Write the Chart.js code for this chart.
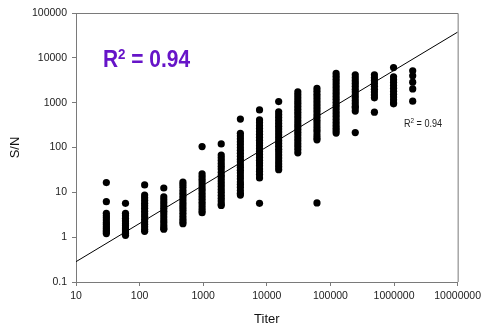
<!DOCTYPE html>
<html>
<head>
<meta charset="utf-8">
<script src="https://cdn.jsdelivr.net/npm/chart.js@4/dist/chart.umd.min.js"></script>
<style>
  html, body { margin: 0; padding: 0; background: #fff; }
  #wrap { width: 485px; height: 326px; }
</style>
</head>
<body>
<div id="wrap"><canvas id="c" width="485" height="326"></canvas></div>
<script>
// Serial two-fold titers (x) and the S/N readings measured at each titer (y)
const titers = [30, 60, 120, 240, 480, 960, 1920, 3840, 7680, 15360, 30720,
                61440, 122880, 245760, 491520, 983040, 1966080];

const sn30      = [16.5, 6.2, 3.4, 3.0, 2.7, 2.4, 2.1, 1.9, 1.7, 1.55, 1.4, 1.3, 1.2];
const sn60      = [5.7, 3.4, 3.0, 2.6, 2.3, 2.0, 1.8, 1.6, 1.45, 1.3, 1.2, 1.1];
const sn120     = [14.6, 8.7, 7.6, 6.6, 5.7, 5.0, 4.4, 3.8, 3.3, 2.9, 2.5, 2.2, 1.95, 1.7, 1.5, 1.35];
const sn240     = [12.5, 7.9, 6.8, 5.9, 5.1, 4.4, 3.8, 3.3, 2.8, 2.4, 2.1, 1.8, 1.6, 1.5];
const sn480     = [17, 15, 13, 11, 9.5, 8.2, 7.1, 6.1, 5.3, 4.6, 4.0, 3.4, 2.9, 2.5, 2.2, 2.0];
const sn960     = [105, 26, 22.5, 19.5, 17, 14.5, 12.5, 11, 9.4, 8.1, 7.0, 6.0, 5.2, 4.5, 3.9, 3.5];
const sn1920    = [120, 68, 59, 51, 44, 38, 33, 28, 24, 21, 18, 15.5, 13.5, 11.5, 10, 8.6, 7.4, 6.4, 5.5, 5.1];
const sn3840    = [430, 207, 180, 155, 134, 116, 100, 86, 74, 64, 55, 48, 41, 36, 31, 27, 23, 20, 17, 15, 13, 11, 9.5, 8.7];
const sn7680    = [690, 413, 355, 305, 265, 228, 197, 170, 146, 126, 109, 94, 81, 70, 60, 52, 45, 39, 33, 29, 25, 21, 5.7];
const sn15360   = [1060, 625, 540, 465, 400, 345, 298, 257, 222, 191, 165, 142, 123, 106, 91, 79, 68, 58, 50, 43, 37, 32];
const sn30720   = [1740, 1500, 1290, 1110, 960, 830, 715, 615, 530, 460, 395, 340, 295, 255, 220, 190, 163, 141, 121, 105, 90, 76];
const sn61440   = [2080, 1790, 1540, 1330, 1150, 990, 855, 735, 635, 545, 470, 405, 350, 300, 260, 225, 190, 165, 148, 5.8];
const sn122880  = [4500, 3880, 3350, 2890, 2490, 2150, 1850, 1600, 1380, 1190, 1020, 880, 760, 655, 565, 490, 420, 360, 310, 270, 235, 210];
const sn245760  = [4170, 3600, 3100, 2680, 2310, 1990, 1720, 1480, 1280, 1100, 950, 820, 765, 650, 215];
const sn491520  = [4170, 3600, 3100, 2680, 2310, 1990, 1720, 1480, 1280, 614];
const sn983040  = [6070, 3770, 3250, 2800, 2420, 2090, 1800, 1550, 1340, 1160, 1000, 940];
const sn1966080 = [5130, 3960, 2870, 2030, 1080];

const snByTiter = [sn30, sn60, sn120, sn240, sn480, sn960, sn1920, sn3840, sn7680,
                   sn15360, sn30720, sn61440, sn122880, sn245760, sn491520, sn983040, sn1966080];

// Log-log regression line, given by its two ends across the plotted range
const fitX = [10, 10000000];
const fitY = [0.284, 37500];
const r2Text = '0.94';

// Decade ticks on both axes
const xTicks = [10, 100, 1000, 10000, 100000, 1000000, 10000000];
const yTicks = [0.1, 1, 10, 100, 1000, 10000, 100000];

const points = [];
titers.forEach((t, i) => snByTiter[i].forEach(v => points.push({ x: t, y: v })));
const fitPoints = fitX.map((x, i) => ({ x, y: fitY[i] }));

Chart.defaults.font.family = "'Liberation Sans', Arial, sans-serif";
Chart.defaults.color = '#222';

const AXIS_GREY = '#7a7a7a';

// Closes the plot frame on the top and right sides
const framePlugin = {
  id: 'frame',
  beforeDatasetsDraw(chart) {
    const { ctx, chartArea: a } = chart;
    ctx.save();
    ctx.strokeStyle = AXIS_GREY;
    ctx.lineWidth = 1;
    ctx.beginPath();
    ctx.moveTo(a.left, a.top + 0.5);
    ctx.lineTo(a.right + 0.5, a.top + 0.5);
    ctx.lineTo(a.right + 0.5, a.bottom);
    ctx.stroke();
    ctx.restore();
  }
};

// R² annotations: a large highlighted one and a small one beside the data
function drawR2(ctx, x, y, size, sup, weight, color, targetWidth) {
  const mainFont = `${weight} ${size}px 'Liberation Sans', Arial, sans-serif`;
  const supFont = `${weight} ${sup}px 'Liberation Sans', Arial, sans-serif`;
  ctx.save();
  ctx.fillStyle = color;
  ctx.textBaseline = 'alphabetic';
  ctx.font = mainFont;
  const wR = ctx.measureText('R').width;
  const wRest = ctx.measureText(' = ' + r2Text).width;
  ctx.font = supFont;
  const w2 = ctx.measureText('2').width;
  const total = wR + w2 + wRest;
  const sx = targetWidth ? targetWidth / total : 1;
  ctx.translate(x, y);
  ctx.scale(sx, 1);
  ctx.font = mainFont;
  ctx.fillText('R', 0, 0);
  ctx.font = supFont;
  ctx.fillText('2', wR, -size * 0.33);
  ctx.font = mainFont;
  ctx.fillText(' = ' + r2Text, wR + w2, 0);
  ctx.restore();
}

const labelPlugin = {
  id: 'r2labels',
  afterDraw(chart) {
    const ctx = chart.ctx;
    drawR2(ctx, 103, 66.5, 23.5, 15, 'bold', '#6614c8', 87);
    drawR2(ctx, 404, 126.5, 10, 7, 'normal', '#222', 38);
  }
};

new Chart(document.getElementById('c'), {
  type: 'scatter',
  data: {
    datasets: [
      {
        label: 'S/N',
        data: points,
        pointRadius: 3.6,
        pointHoverRadius: 3.6,
        pointBorderWidth: 0,
        pointBackgroundColor: '#000',
        order: 2
      },
      {
        type: 'line',
        label: 'Fit',
        data: fitPoints,
        borderColor: '#000',
        borderWidth: 1,
        pointRadius: 0,
        fill: false,
        order: 1
      }
    ]
  },
  options: {
    responsive: false,
    animation: false,
    devicePixelRatio: 1,
    layout: { padding: { left: 0, right: 26, top: 13, bottom: 0 } },
    plugins: { legend: { display: false }, tooltip: { enabled: false } },
    scales: {
      x: {
        type: 'logarithmic',
        min: 10,
        max: 10000000,
        afterBuildTicks: s => { s.ticks = xTicks.map(v => ({ value: v, major: true })); },
        afterFit: s => { s.height = 44; },
        ticks: {
          callback: v => String(v),
          font: { size: 10.5 },
          color: '#222',
          padding: 4,
          maxRotation: 0,
          autoSkip: false
        },
        grid: { drawOnChartArea: false, tickLength: 4, color: AXIS_GREY },
        border: { color: AXIS_GREY, width: 1 },
        title: {
          display: true,
          text: 'Titer',
          font: { size: 13, lineHeight: 1 },
          color: '#111',
          padding: { top: 0, bottom: 0 }
        }
      },
      y: {
        type: 'logarithmic',
        min: 0.1,
        max: 100000,
        afterBuildTicks: s => { s.ticks = yTicks.map(v => ({ value: v, major: true })); },
        afterFit: s => { s.width = 76; },
        ticks: {
          callback: v => String(v),
          font: { size: 10.5 },
          color: '#222',
          padding: 5,
          autoSkip: false
        },
        grid: { drawOnChartArea: false, tickLength: 4, color: AXIS_GREY },
        border: { color: AXIS_GREY, width: 1 },
        title: {
          display: true,
          text: 'S/N',
          font: { size: 13, lineHeight: 1 },
          color: '#111',
          padding: { top: 8.5, bottom: 0 }
        }
      }
    }
  },
  plugins: [framePlugin, labelPlugin]
});
</script>
</body>
</html>
